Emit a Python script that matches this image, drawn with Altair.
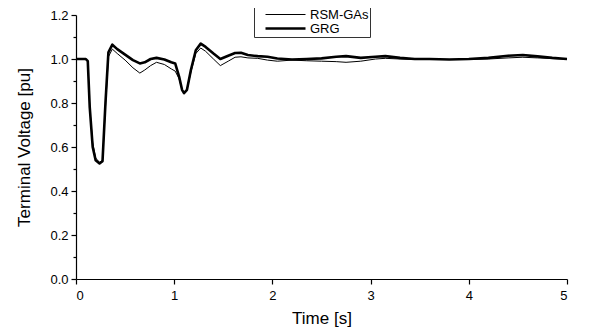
import altair as alt
import pandas as pd

t = [0, 0.10, 0.12, 0.14, 0.17, 0.20, 0.24, 0.27, 0.30, 0.33, 0.37, 0.42, 0.50, 0.58, 0.65, 0.70,
     0.76, 0.82, 0.90, 0.97, 1.01, 1.05, 1.08, 1.10, 1.13, 1.17, 1.22, 1.27, 1.32, 1.40, 1.47, 1.55,
     1.62, 1.68, 1.75, 1.85, 1.95, 2.05, 2.2, 2.35, 2.5, 2.65, 2.75, 2.9, 3.05, 3.15, 3.3, 3.45, 3.6,
     3.8, 4.0, 4.2, 4.4, 4.55, 4.7, 4.85, 5.0]

grg = [1.0, 1.0, 0.99, 0.78, 0.60, 0.54, 0.525, 0.535, 0.80, 1.03, 1.065, 1.045, 1.02, 0.995, 0.98, 0.985,
       1.0, 1.005, 0.998, 0.985, 0.98, 0.92, 0.86, 0.845, 0.86, 0.95, 1.04, 1.07, 1.055, 1.025, 1.0, 1.015,
       1.027, 1.028, 1.018, 1.013, 1.01, 1.002, 0.998, 1.0, 1.003, 1.01, 1.013, 1.005, 1.01, 1.013, 1.005, 1.0, 1.0,
       0.998, 1.0, 1.005, 1.015, 1.018, 1.012, 1.005, 1.0]

rsm = [1.0, 1.0, 0.99, 0.78, 0.62, 0.55, 0.53, 0.54, 0.78, 1.01, 1.045, 1.025, 0.995, 0.96, 0.936, 0.95,
       0.97, 0.985, 0.975, 0.955, 0.945, 0.91, 0.86, 0.845, 0.86, 0.94, 1.025, 1.05, 1.035, 1.0, 0.97, 0.99,
       1.008, 1.01, 1.005, 1.003, 0.995, 0.99, 0.995, 0.992, 0.99, 0.988, 0.985, 0.99, 1.0, 1.003, 1.0, 0.998, 1.0,
       0.998, 0.998, 1.0, 1.005, 1.008, 1.005, 1.002, 1.0]

series = ["RSM-GAs", "GRG"]
widths = [1.0, 2.6]

x_ticks = [0, 0.5, 1, 1.5, 2, 2.5, 3, 3.5, 4, 4.5, 5]
y_ticks = [0, 0.1, 0.2, 0.3, 0.4, 0.5, 0.6, 0.7, 0.8, 0.9, 1.0, 1.1, 1.2]

rows = []
for name, vals in zip(series, [rsm, grg]):
    for ti, vi in zip(t, vals):
        rows.append({"t": ti, "v": vi, "series": name})
df = pd.DataFrame(rows)

FONT = "Liberation Sans"

chart = alt.Chart(df).mark_line(color="black", strokeJoin="round").encode(
    x=alt.X("t:Q", scale=alt.Scale(domain=[0, 5], nice=False),
            axis=alt.Axis(title="Time [s]", values=x_ticks, format="d",
                          labelExpr="datum.value % 1 === 0 ? datum.label : ''",
                          tickSize={"condition": {"test": "datum.value % 1 === 0", "value": 5}, "value": 3},
                          grid=False, labelPadding=5, titlePadding=8)),
    y=alt.Y("v:Q", scale=alt.Scale(domain=[0, 1.2], nice=False),
            axis=alt.Axis(title="Terminal Voltage [pu]", values=y_ticks, format=".1f",
                          labelExpr="round(datum.value*10) % 2 === 0 ? datum.label : ''",
                          tickSize={"condition": {"test": "round(datum.value*10) % 2 === 0", "value": 5}, "value": 3},
                          grid=False, labelPadding=3, titlePadding=16)),
    strokeWidth=alt.StrokeWidth("series:N", scale=alt.Scale(domain=series, range=widths),
                                legend=alt.Legend(title="\u00a0", titleFontSize=10, titlePadding=2,
                                                  orient="none", legendX=178, legendY=-20,
                                                  symbolType="M-4,0H4", symbolSize=100,
                                                  symbolStrokeColor="black", symbolOffset=24,
                                                  labelFontSize=13, labelFont=FONT, labelColor="black",
                                                  labelOffset=18,
                                                  strokeColor="#333", fillColor="white", padding=1,
                                                  rowPadding=0)),
    detail="series:N",
).properties(
    width=491, height=264,
    autosize=alt.AutoSizeParams(type="none"),
    padding={"left": 68, "top": 7, "right": 15, "bottom": 48},
    background="white",
).configure_view(stroke=None).configure_axis(
    domainColor="black", domainWidth=1.2, tickColor="black", tickWidth=1.2,
    labelColor="black", labelFont=FONT, labelFontSize=13,
    titleColor="black", titleFont=FONT, titleFontSize=17, titleFontWeight="normal",
)

chart.save("out.html", embed_options={"renderer": "svg", "actions": False})
